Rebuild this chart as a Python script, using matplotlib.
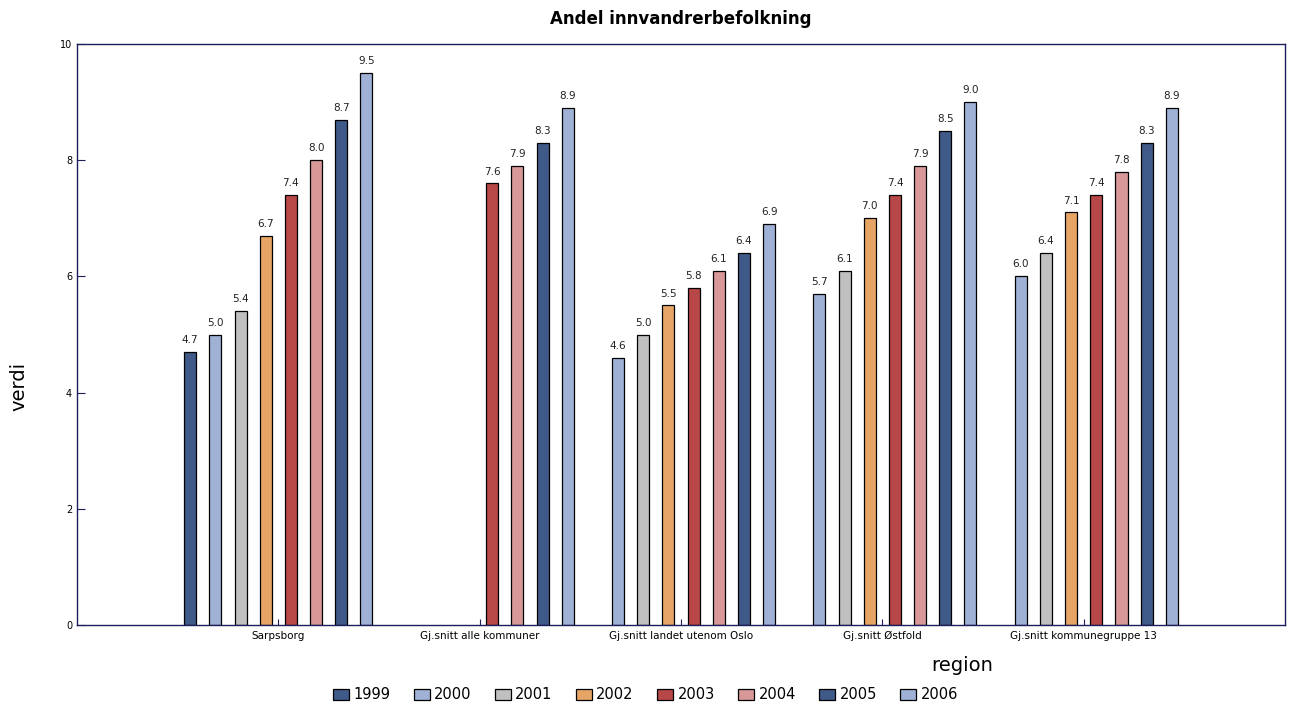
#!/usr/bin/env python3

import numpy as np
import matplotlib.pyplot as plt

regions = ["Sarpsborg", "Gj.snitt alle kommuner", "Gj.snitt landet utenom Oslo",
           "Gj.snitt Østfold", "Gj.snitt kommunegruppe 13"]
years = ["1999", "2000", "2001", "2002", "2003", "2004", "2005", "2006"]
nan = np.nan
# one list per year, values for each region (nan = no bar)
v1999 = [4.7, nan, nan, nan, nan]
v2000 = [5.0, nan, 4.6, 5.7, 6.0]
v2001 = [5.4, nan, 5.0, 6.1, 6.4]
v2002 = [6.7, nan, 5.5, 7.0, 7.1]
v2003 = [7.4, 7.6, 5.8, 7.4, 7.4]
v2004 = [8.0, 7.9, 6.1, 7.9, 7.8]
v2005 = [8.7, 8.3, 6.4, 8.5, 8.3]
v2006 = [9.5, 8.9, 6.9, 9.0, 8.9]
series = [v1999, v2000, v2001, v2002, v2003, v2004, v2005, v2006]

colors = ["#3f5a88", "#9fb2d6", "#c0c0c0", "#e6a564",
          "#b84848", "#d89898", "#3f5a88", "#9fb2d6"]
navy = "#1c1f5c"

fig = plt.figure(figsize=(12.91, 7.02), dpi=100)
ax = fig.add_axes([0.0596, 0.1097, 0.9358, 0.8276])

ind = np.arange(len(regions))
step = 0.125
width = 0.06
handles = []
for i, (vals, col, yr) in enumerate(zip(series, colors, years)):
    xs = ind + (i - 3.5) * step
    b = ax.bar(xs, vals, width, color=col, edgecolor="black", linewidth=0.9, label=yr)
    handles.append(b)
    for x, v in zip(xs, vals):
        if not np.isnan(v):
            ax.annotate(f"{v:.1f}", (x, v), xytext=(0, 5), textcoords="offset points",
                        ha="center", va="bottom", fontsize=7.5, color="#222222")

ax.set_xlim(-1, 5)
ax.set_ylim(0, 10)
ax.set_xticks(ind)
ax.set_xticklabels(regions, fontsize=7.5)
ax.set_yticks(np.arange(0, 11, 2))
ax.tick_params(axis="y", direction="in", length=6, color=navy, labelsize=7)
ax.tick_params(axis="x", direction="in", length=4, color=navy, pad=4)
for s in ax.spines.values():
    s.set_color(navy)
    s.set_linewidth(1.0)

fig.text(0.015, 0.45, "verdi", fontsize=14, rotation=90, ha="center", va="center")
fig.text(0.745, 0.052, "region", fontsize=14, ha="center", va="center")
fig.text(0.527, 0.973, "Andel innvandrerbefolkning", fontsize=12, fontweight="bold",
         ha="center", va="center")

fig.legend(handles=handles, labels=years, loc="center", bbox_to_anchor=(0.5, 0.01),
           ncol=8, frameon=False, fontsize=10.5, handlelength=1.1, handleheight=0.8,
           handletextpad=0.3, columnspacing=1.6)

fig.savefig("out.png", dpi=100)
